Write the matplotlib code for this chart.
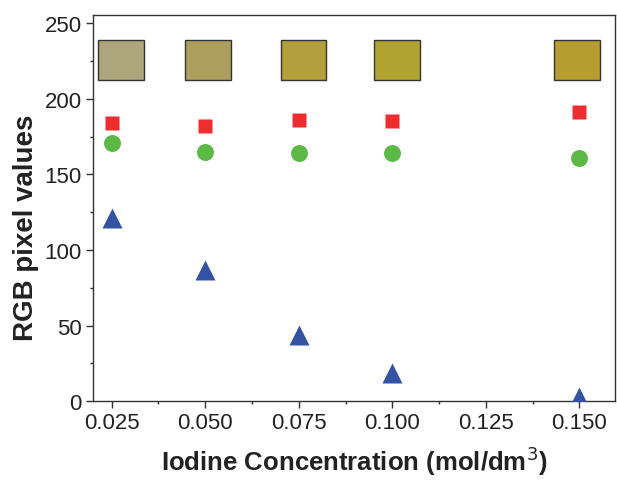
import matplotlib
matplotlib.use("Agg")
import matplotlib.pyplot as plt
from matplotlib.patches import Rectangle
from matplotlib.ticker import MultipleLocator, FixedLocator

plt.rcParams['font.family'] = ['Liberation Sans', 'DejaVu Sans']

conc = [0.025, 0.050, 0.075, 0.100, 0.150]
red_vals = [184, 182, 186, 185, 191]
green_vals = [171, 165, 164, 164, 161]
blue_vals = [121, 87, 44, 19, 3]

xticks = [0.025, 0.050, 0.075, 0.100, 0.125, 0.150]
xtick_labels = ["0.025", "0.050", "0.075", "0.100", "0.125", "0.150"]
yticks = [0, 50, 100, 150, 200, 250]

# colour swatches of the solutions (shown across the top)
swatch_colors = ["#ADA57B", "#AE9E5D", "#B3A03C", "#B0A332", "#B59E2F"]
swatch_x = [0.0275, 0.0507, 0.0762, 0.1013, 0.1493]

fig = plt.figure(figsize=(6.17, 4.81), dpi=100)
ax = fig.add_axes([0.1507, 0.1636, 0.8461, 0.8031])

spine_c = "#333333"
for s in ax.spines.values():
    s.set_color(spine_c)
    s.set_linewidth(1.0)

for xc, col in zip(swatch_x, swatch_colors):
    w = 0.01215
    ax.add_patch(Rectangle((xc - w / 2, 212.3), w, 26.5, facecolor=col,
                           edgecolor="#333333", linewidth=1.0, zorder=2))

ax.plot(conc, red_vals, linestyle="none", marker="s", ms=10.3,
        color="#EE2E2E", mec="none", zorder=3, clip_on=True)
ax.plot(conc, green_vals, linestyle="none", marker="o", ms=12.2,
        color="#5DB946", mec="none", zorder=3, clip_on=True)
ax.plot(conc, blue_vals, linestyle="none", marker="^", ms=14,
        color="#3553A5", mec="none", zorder=3, clip_on=True)

ax.set_xlim(0.020, 0.1595)
ax.set_ylim(0, 255.3)
ax.set_xticks(xticks)
ax.set_xticklabels(xtick_labels)
ax.xaxis.set_minor_locator(FixedLocator([0.0375, 0.0625, 0.0875, 0.1125, 0.1375]))
ax.set_yticks(yticks)
ax.yaxis.set_minor_locator(MultipleLocator(25))

ax.tick_params(which="major", direction="out", length=5, width=1.0,
               color=spine_c, labelsize=16, labelcolor="#222222", pad=3)
ax.tick_params(which="minor", direction="out", length=2.5, width=1.0,
               color=spine_c)
ax.tick_params(top=False, right=False)

ax.set_xlabel("Iodine Concentration (mol/dm$^3$)", fontsize=18.5,
              fontweight="bold", color="#222222", labelpad=7)
ax.set_ylabel("RGB pixel values", fontsize=20, fontweight="bold",
              color="#222222", labelpad=4)
ax.yaxis.label.set_y(0.451)

fig.savefig("out.png", dpi=100)
